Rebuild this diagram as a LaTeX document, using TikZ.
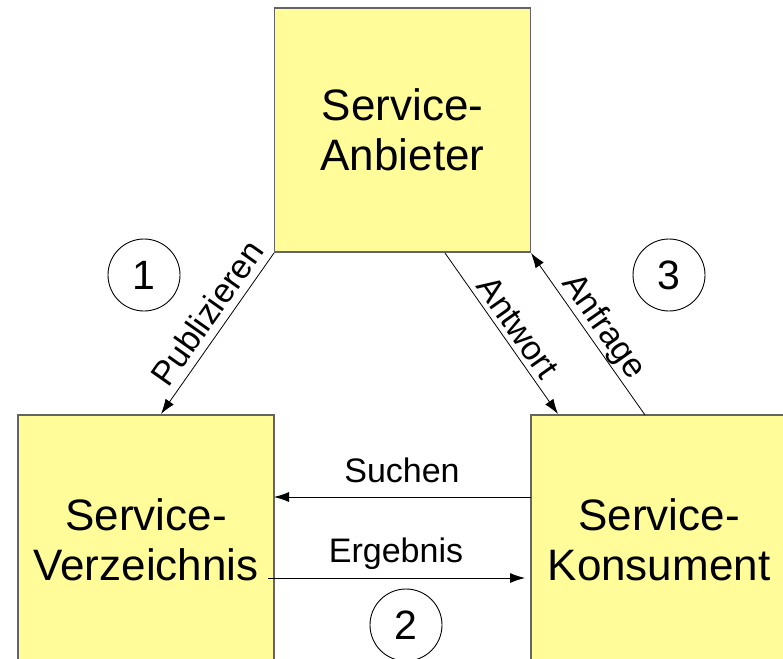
\documentclass[tikz,border=0pt]{standalone}
\usepackage{fontspec}
\setmainfont{Liberation Sans}
\usetikzlibrary{arrows.meta}
\definecolor{boxfill}{RGB}{255,252,153}
\definecolor{boxline}{RGB}{100,100,100}
\begin{document}
\begin{tikzpicture}[x=1pt,y=-1pt,
  svcbox/.style={draw=boxline, line width=1.2pt, fill=boxfill, minimum width=256pt, minimum height=244pt, inner sep=0pt, align=center, font=\fontsize{44}{50}\selectfont},
  lbl/.style={font=\fontsize{34}{40}\selectfont, inner sep=0pt},
  numcirc/.style={draw, circle, line width=0.9pt, minimum size=72pt, inner sep=0pt, font=\fontsize{41}{44}\selectfont},
  conn/.style={line width=0.8pt, -{Latex[length=15pt,width=10pt]}}]
\useasboundingbox (0,0) rectangle (783,658);
\begin{scope}
\clip (0,0) rectangle (783,658);
\node[svcbox] (A) at (402.5,130) {Service-\\Anbieter};
\node[svcbox, minimum height=250pt] (V) at (146,540) {Service-\\Verzeichnis};
\node[svcbox, minimum height=250pt] (K) at (659,540) {Service-\\Konsument};
\end{scope}
% connector endpoints
\coordinate (pubS) at (274,253);
\coordinate (pubE) at (161,414);
\coordinate (antS) at (445,253);
\coordinate (antE) at (558,414);
\coordinate (anfS) at (645,415);
\coordinate (anfE) at (531,253);
\coordinate (suS) at (531,497);
\coordinate (suE) at (274,497);
\coordinate (erS) at (268,578);
\coordinate (erE) at (525,578);
\draw[conn] (pubS) -- (pubE);
\draw[conn] (antS) -- (antE);
\draw[conn] (anfS) -- (anfE);
\draw[conn] (suS) -- (suE);
\draw[conn] (erS) -- (erE);
% labels
\node[lbl, rotate=54.8] (lpub) at (207,313) {Publizieren};
\node[lbl, rotate=-54.8] (lant) at (518,327) {Antwort};
\node[lbl, rotate=-54.8] (lanf) at (603,327) {Anfrage};
\node[lbl, anchor=base] (lsu) at (402,482) {Suchen};
\node[lbl, anchor=base] (ler) at (396,562) {Ergebnis};
% numbers
\node[numcirc] (n1) at (144,275) {1};
\node[numcirc] (n3) at (669,275) {3};
\node[numcirc] (n2) at (406,625) {2};
\end{tikzpicture}
\end{document}
